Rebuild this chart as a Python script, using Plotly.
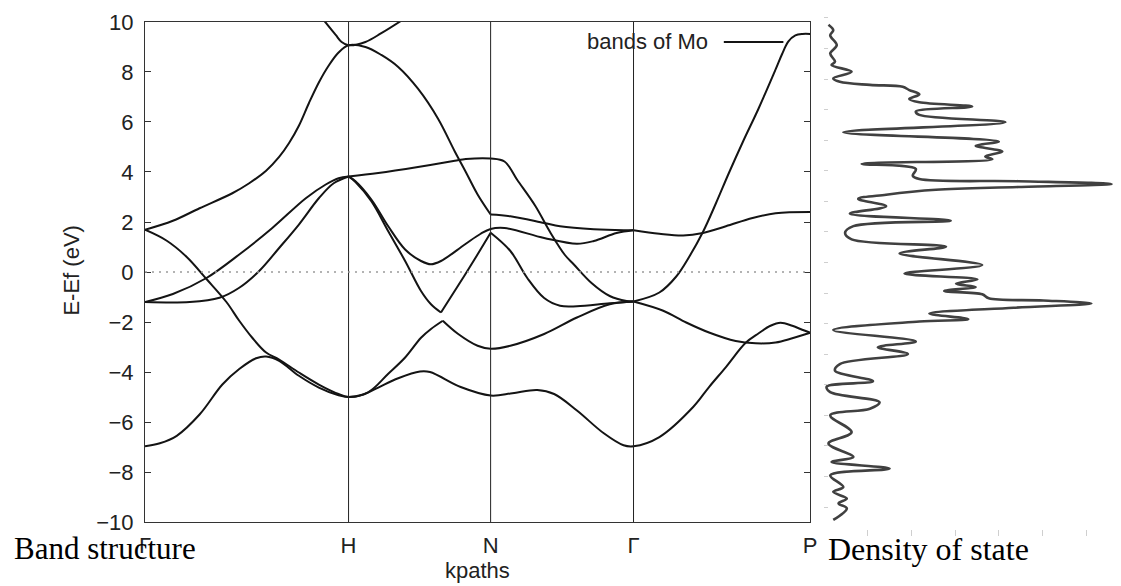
import plotly.graph_objects as go

# ---------------- data ----------------
kpath_pos = [0.0, 1.0, 1.698, 2.400, 3.268]
kpath_labels = ["Γ", "H", "N", "Γ", "P"]

N_ = None
band1_k = [0.000, 0.073, 0.156, 0.268, 0.380, 0.463, 0.546, 0.595, 0.659, 0.756, 0.854, 0.951, 1.000,
           1.073, 1.146, 1.244, 1.351, 1.400, 1.551, 1.698, 1.805, 1.927, 2.010, 2.122, 2.254, 2.351, 2.400,
           2.527, 2.693, 2.771, 2.854, 2.951, 3.015, 3.073, 3.122, 3.180, 3.220, 3.268]
band1_e = [-6.97, -6.85, -6.55, -5.70, -4.50, -3.88, -3.45, -3.38, -3.55, -4.15, -4.62, -4.93, -5.00,
           -4.90, -4.62, -4.25, -3.98, -4.00, -4.60, -4.94, -4.85, -4.72, -4.88, -5.54, -6.45, -6.93, -6.97,
           -6.60, -5.40, -4.60, -3.80, -2.83, -2.45, -2.15, -2.03, -2.15, -2.28, -2.43]

band2_k = [0.000, 0.107, 0.205, 0.302, 0.400, 0.463, 0.527, 0.595, 0.659, 0.756, 0.854, 0.951, 1.000,
           1.098, 1.195, 1.278, 1.356, 1.405, 1.463, N_,
           1.463, 1.537, 1.634, 1.698, 1.795, 1.961, 2.122, 2.283, 2.400, N_,
           2.400, 2.546, 2.659, 2.771, 2.902, 3.000, 3.098, 3.180, 3.268]
band2_e = [1.69, 1.25, 0.60, -0.28, -1.20, -1.95, -2.63, -3.22, -3.50, -4.02, -4.50, -4.88, -5.00,
           -4.80, -4.07, -3.42, -2.63, -2.28, -1.95, N_,
           -1.95, -2.47, -2.95, -3.07, -2.95, -2.48, -1.82, -1.29, -1.18, N_,
           -1.18, -1.55, -2.02, -2.42, -2.76, -2.85, -2.82, -2.65, -2.43]

band3_k = [0.000, 0.137, 0.302, 0.463, 0.624, 0.790, 0.888, 0.951, 1.000, N_,
           1.000, 1.034, 1.112, 1.195, 1.278, 1.356, 1.405, 1.454, N_,
           1.454, 1.537, 1.620, 1.698, N_,
           1.698, 1.795, 1.878, 1.961, 2.039, 2.122, 2.283, 2.400, N_,
           2.400, 2.527, 2.610, 2.673, 2.741, 2.805, 2.868, 2.937, 3.015, 3.098, 3.130, 3.161, 3.195,
           3.230, 3.268]
band3_e = [-1.20, -0.88, -0.24, 0.70, 1.75, 2.95, 3.50, 3.75, 3.82, N_,
           3.82, 3.60, 2.83, 1.63, 0.44, -0.76, -1.29, -1.62, N_,
           -1.62, -0.56, 0.52, 1.57, N_,
           1.57, 0.84, -0.24, -1.04, -1.35, -1.37, -1.25, -1.18, N_,
           -1.18, -0.82, -0.18, 0.60, 1.60, 2.75, 3.95, 5.20, 6.55, 8.10, 8.72, 9.22, 9.46,
           9.52, 9.52]

band4_k = [0.000, 0.220, 0.366, 0.463, 0.561, 0.659, 0.756, 0.854, 0.927, 1.000, N_,
           1.000, 1.034, 1.112, 1.195, 1.278, 1.356, 1.405, 1.454, 1.571, 1.649, 1.698, 1.766,
           1.961, 2.122, 2.205, 2.317, 2.400]
band4_e = [-1.20, -1.20, -1.03, -0.63, 0.04, 0.96, 1.90, 2.95, 3.55, 3.82, N_,
           3.82, 3.63, 2.90, 1.83, 0.90, 0.44, 0.31, 0.44, 1.10, 1.53, 1.72, 1.76,
           1.36, 1.13, 1.24, 1.56, 1.67]

band5_k = [1.000, 1.146, 1.341, 1.522, 1.576, 1.698, 1.766, 1.829, 1.917, 1.990, 2.063, 2.107,
           2.195, 2.283, 2.366, 2.400]
band5_e = [3.82, 3.96, 4.20, 4.45, 4.52, 4.54, 4.42, 3.68, 2.65, 1.60, 0.68, 0.30,
           -0.45, -0.96, -1.16, -1.18]

band6_k = [0.000, 0.137, 0.268, 0.429, 0.512, 0.595, 0.659, 0.707, 0.756, 0.805, 0.854, 0.902, 0.951,
           1.000, 1.083, 1.161, 1.244, 1.341, 1.439, 1.522, 1.576, 1.634, 1.698, N_,
           1.698, 1.795, 1.961, 2.039, 2.205, 2.351, 2.400, N_,
           2.400, 2.527, 2.644, 2.741, 2.854, 2.985, 3.098, 3.268]
band6_e = [1.69, 2.05, 2.55, 3.15, 3.55, 4.05, 4.60, 5.15, 5.85, 6.75, 7.58, 8.25, 8.78,
           9.07, 9.00, 8.68, 8.20, 7.33, 6.14, 4.82, 4.00, 3.10, 2.30, N_,
           2.30, 2.23, 1.96, 1.83, 1.71, 1.67, 1.67, N_,
           1.67, 1.53, 1.46, 1.56, 1.83, 2.16, 2.35, 2.40]

band7_k = [0.863, 0.888, 0.937, 0.966, 1.000, 1.083, 1.161, 1.244, 1.268]
band7_e = [10.25, 9.97, 9.48, 9.20, 9.07, 9.20, 9.55, 9.97, 10.10]

dos_energy = [7.78, 7.60, 7.43, 7.11, 6.84, 6.57, 6.46, 6.24, 6.02, 5.91, 5.81, 5.75, 5.64, 5.50,
              5.35, 5.24, 5.10, 4.94, 4.83, 4.59, 4.26, 3.96, 3.82, 3.63, 3.47, 3.38, 3.23, 3.06,
              2.84, 2.73, 2.66, 2.57, 2.47, 2.38, 2.22, 2.08, 1.84, 1.60, 1.37, 1.19, 0.97, 0.76,
              0.52, 0.30, -0.08, -0.36, -0.55, -0.69, -0.80, -0.93, -1.04, -1.17, -1.24, -1.34,
              -1.48, -1.67, -1.85, -1.93, -2.21, -2.58, -2.77, -2.99, -3.32, -3.54, -3.88, -4.06,
              -4.24, -4.57, -4.78, -5.00, -5.55, -5.92, -6.36, -6.52, -6.74, -6.96, -7.34, -7.50,
              -7.72, -7.88, -8.04, -8.42]
dos_value = [0.10, 0.21, 0.14, 0.29, 0.14, 0.25, 0.17, 0.63, 0.21, 0.36, 1.05, 1.80, 1.95, 2.18,
             1.95, 2.18, 3.39, 2.10, 2.18, 4.15, 0.44, 4.00, 3.47, 4.08, 3.69, 3.85, 0.86, 2.10,
             2.03, 2.18, 4.45, 6.58, 4.45, 2.56, 1.42, 0.78, 1.42, 0.59, 2.90, 0.67, 0.48, 0.63,
             2.79, 1.73, 3.62, 1.84, 3.51, 3.02, 3.47, 2.75, 3.62, 3.77, 5.02, 6.12,
             4.34, 2.41, 3.30, 2.18, 0.21, 2.10, 1.23, 1.92, 0.36, 0.25, 1.12, 0.06,
             0.14, 1.27, 1.05, 0.14, 0.63, 0.10, 0.67, 0.17, 1.50, 0.14, 0.44, 0.21,
             0.52, 0.33, 0.52, 0.21]

dos_xticks = [0, 1, 2, 3, 4, 5, 6]

# ---------------- figure ----------------
W, H = 1121, 586
ML, MR, MT, MB = 145, 0, 10, 50
PW, PH = W - ML - MR, H - MT - MB


def px_x(x):
    return (x - ML) / PW


def px_y(y):
    return (H - MB - y) / PH


fig = go.Figure()
bands = [(band1_k, band1_e), (band2_k, band2_e), (band3_k, band3_e), (band4_k, band4_e),
         (band5_k, band5_e), (band6_k, band6_e), (band7_k, band7_e)]
for bk, be in bands:
    fig.add_trace(go.Scatter(x=bk, y=be, mode="lines", xaxis="x", yaxis="y",
                             line=dict(color="#141414", width=2.0, shape="spline", smoothing=1),
                             connectgaps=False, showlegend=False, hoverinfo="skip"))

fig.add_trace(go.Scatter(x=dos_value, y=dos_energy, mode="lines", xaxis="x2", yaxis="y2",
                         line=dict(color="#404040", width=2.6, shape="spline", smoothing=1),
                         showlegend=False, hoverinfo="skip"))

font_sans = "Liberation Sans, Arial, Helvetica, sans-serif"
font_serif = "Liberation Serif, Times New Roman, serif"

shapes = []
for kp in kpath_pos[1:-1]:
    shapes.append(dict(type="line", xref="x", yref="y", x0=kp, x1=kp, y0=-10, y1=10,
                       line=dict(color="#222222", width=1)))
shapes.append(dict(type="line", xref="x", yref="y", x0=kpath_pos[0], x1=kpath_pos[-1], y0=0, y1=0,
                   line=dict(color="#9a9a9a", width=1.6, dash="2px,5px")))
# legend sample line
shapes.append(dict(type="line", xref="paper", yref="paper", x0=px_x(728), x1=px_x(788),
                   y0=px_y(40), y1=px_y(40), line=dict(color="#141414", width=2.0)))

annotations = [
    dict(text="E-Ef (eV)", xref="paper", yref="paper", x=px_x(70), y=px_y(270), textangle=-90,
         showarrow=False, font=dict(family=font_sans, size=22, color="#222"),
         xanchor="center", yanchor="middle"),
    dict(text="kpaths", xref="paper", yref="paper", x=px_x(480), y=px_y(571),
         showarrow=False, font=dict(family=font_sans, size=22, color="#222"),
         xanchor="center", yanchor="middle"),
    dict(text="bands of Mo", xref="paper", yref="paper", x=px_x(714), y=px_y(40),
         showarrow=False, font=dict(family=font_sans, size=22, color="#222"),
         xanchor="right", yanchor="middle"),
    dict(text="Band structure", xref="paper", yref="paper", x=px_x(11), y=px_y(549),
         showarrow=False, font=dict(family=font_serif, size=31, color="#000"),
         xanchor="left", yanchor="middle"),
    dict(text="Density of state", xref="paper", yref="paper", x=px_x(831), y=px_y(549),
         showarrow=False, font=dict(family=font_serif, size=32, color="#000"),
         xanchor="left", yanchor="middle"),
]

band_x_dom = [px_x(145), px_x(815)]
band_y_dom = [px_y(522), px_y(20)]
dos_x_dom = [px_x(829), 1.0]
dos_px_per_unit_y = 30.69
dos_zero_y = 261.5
dos_px_per_unit_x = 44.0

fig.update_layout(
    width=W, height=H,
    margin=dict(l=ML, r=MR, t=MT, b=MB),
    paper_bgcolor="white", plot_bgcolor="white",
    shapes=shapes, annotations=annotations,
    xaxis=dict(domain=band_x_dom, range=[kpath_pos[0], kpath_pos[-1]], anchor="y",
               tickmode="array", tickvals=kpath_pos, ticktext=kpath_labels, ticks="",
               showline=True, mirror=True, linecolor="#333", linewidth=1,
               showgrid=False, zeroline=False, ticklabelstandoff=4,
               tickfont=dict(family=font_sans, size=22, color="#222")),
    yaxis=dict(domain=band_y_dom, range=[-10, 10], anchor="x", dtick=2, tick0=0,
               ticks="inside", ticklen=6, tickcolor="#333", mirror="ticks",
               showline=True, linecolor="#333", linewidth=1,
               showgrid=False, zeroline=False, ticklabelstandoff=6,
               tickfont=dict(family=font_sans, size=22, color="#222")),
    xaxis2=dict(domain=dos_x_dom, anchor="y2",
                range=[0, (W - 829) / dos_px_per_unit_x],
                tickmode="array", tickvals=dos_xticks, ticks="inside", ticklen=6,
                tickcolor="#cfcfcf", showticklabels=False, showline=False,
                showgrid=False, zeroline=False),
    yaxis2=dict(domain=[0, 1], anchor="x2",
                range=[(dos_zero_y - (H - MB)) / dos_px_per_unit_y, (dos_zero_y - MT) / dos_px_per_unit_y],
                dtick=1, tick0=0, ticks="inside", ticklen=4, tickcolor="#cfcfcf",
                showticklabels=False, showline=False, showgrid=False, zeroline=False),
)

fig.write_html("out.html")
